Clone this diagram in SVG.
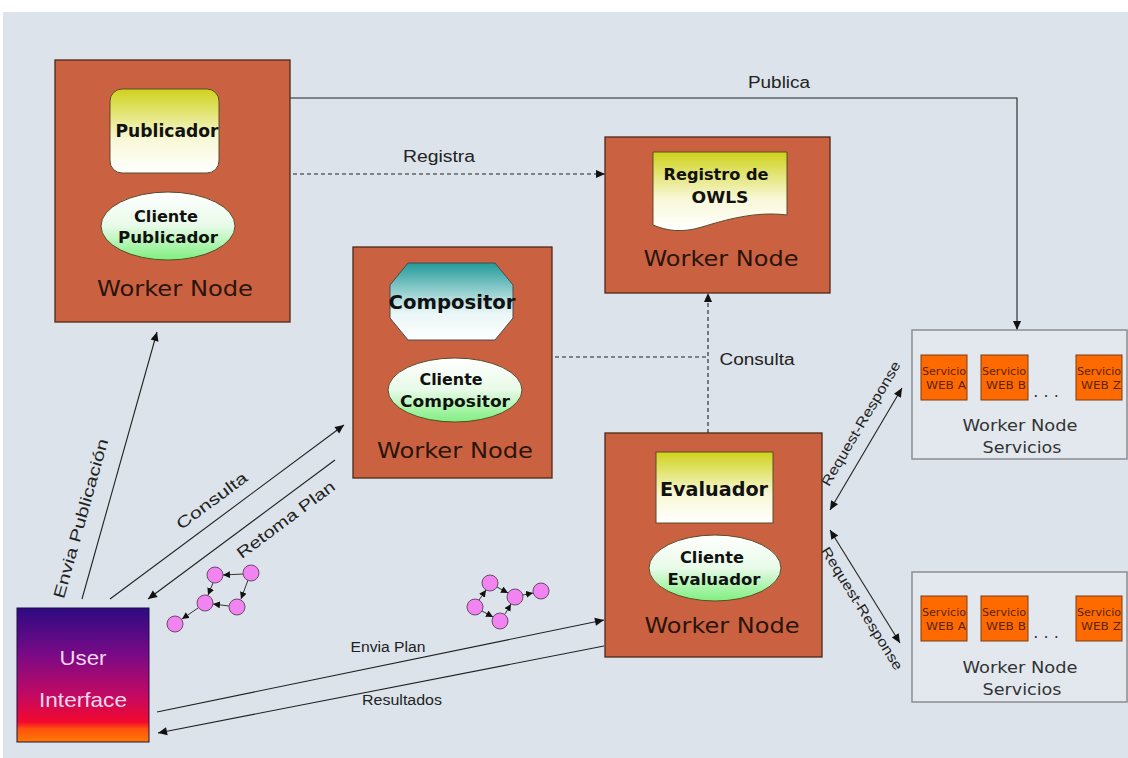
<svg xmlns="http://www.w3.org/2000/svg" width="1128" height="758" viewBox="0 0 1128 758">
  <style>
    text { font-family: "DejaVu Sans", Verdana, sans-serif; text-anchor: middle; }
    .wn { fill: #ca6241; stroke: #4e2818; stroke-width: 1.3; }
    .wnt { font-size: 21px; fill: #2a140c; }
    .bold { font-weight: bold; fill: #111; }
    .lbl { font-family: "Liberation Sans", Arial, sans-serif; font-size: 16px; fill: #222; }
    .sm { font-family: "Liberation Sans", Arial, sans-serif; font-size: 14px; fill: #222; }
    .ln { stroke: #222; stroke-width: 1.1; fill: none; }
    .dash { stroke: #222; stroke-width: 1.1; fill: none; stroke-dasharray: 4 3; }
    .svc { fill: #ff6a00; stroke: #7a3a10; stroke-width: 1; }
    .svct { font-size: 10px; fill: #5a2400; }
    .grp { fill: #e2e8ee; stroke: #8a8e92; stroke-width: 1.5; }
    .grpt { font-size: 16px; fill: #333; }
    .ui { font-family: "Liberation Sans", Arial, sans-serif; font-size: 21px; fill: #f0d8f0; }
    .dot { fill: #f184f0; stroke: #6a4a6a; stroke-width: 1; }
    .gl { stroke: #333; stroke-width: 1; fill: none; }
  </style>
  <defs>
    <linearGradient id="yellowWhite" x1="0" y1="0" x2="0" y2="1">
      <stop offset="0" stop-color="#cfd21a"/>
      <stop offset="0.6" stop-color="#f8f8d8"/>
      <stop offset="1" stop-color="#ffffff"/>
    </linearGradient>
    <linearGradient id="whiteGreen" x1="0" y1="0" x2="0" y2="1">
      <stop offset="0" stop-color="#ffffff"/>
      <stop offset="0.5" stop-color="#e8fae8"/>
      <stop offset="1" stop-color="#7ef07e"/>
    </linearGradient>
    <linearGradient id="tealWhite" x1="0" y1="0" x2="0" y2="1">
      <stop offset="0" stop-color="#229a9a"/>
      <stop offset="0.65" stop-color="#eaf6f6"/>
      <stop offset="1" stop-color="#ffffff"/>
    </linearGradient>
    <linearGradient id="uiGrad" x1="0" y1="0" x2="0" y2="1">
      <stop offset="0" stop-color="#2c0a82"/>
      <stop offset="0.35" stop-color="#7a0a86"/>
      <stop offset="0.65" stop-color="#c20a62"/>
      <stop offset="0.85" stop-color="#f2082e"/>
      <stop offset="0.9" stop-color="#ff5010"/>
      <stop offset="1" stop-color="#ff7a00"/>
    </linearGradient>
    <marker id="arr" viewBox="0 0 10 10" refX="10" refY="5" markerWidth="10" markerHeight="9" markerUnits="userSpaceOnUse" orient="auto-start-reverse">
      <path d="M0,0.5 L10,5 L0,9.5 z" fill="#111"/>
    </marker>
    <marker id="arrS" viewBox="0 0 10 10" refX="10" refY="5" markerWidth="7" markerHeight="7" markerUnits="userSpaceOnUse" orient="auto">
      <path d="M0,0 L10,5 L0,10 z" fill="#111"/>
    </marker>
  </defs>

  <!-- page -->
  <rect x="0" y="0" width="1128" height="758" fill="#ffffff"/>
  <rect x="3" y="12" width="1125" height="746" fill="#dce3ea"/>

  <!-- connectors -->
  <g id="connectors">
    <path class="ln" d="M290,98 H1017 V330" marker-end="url(#arr)"/>
    <text class="lbl" x="779" y="88" textLength="62" lengthAdjust="spacingAndGlyphs">Publica</text>

    <path class="dash" d="M293,174 H605" marker-end="url(#arr)"/>
    <text class="lbl" x="439" y="162" textLength="72" lengthAdjust="spacingAndGlyphs">Registra</text>

    <path class="dash" d="M555,357 H708"/>
    <path class="dash" d="M708,433 V293" marker-end="url(#arr)"/>
    <text class="lbl" x="757" y="365" textLength="75" lengthAdjust="spacingAndGlyphs">Consulta</text>

    <path class="ln" d="M82,599 L157,332" marker-end="url(#arr)"/>
    <text class="lbl" transform="translate(86,520) rotate(-74.3)" textLength="165" lengthAdjust="spacingAndGlyphs">Envia Publicación</text>

    <path class="ln" d="M110,599 L344,425" marker-end="url(#arr)"/>
    <text class="lbl" transform="translate(215,505) rotate(-36.8)" textLength="84" lengthAdjust="spacingAndGlyphs">Consulta</text>

    <path class="ln" d="M335,460 L148,599" marker-end="url(#arr)"/>
    <text class="lbl" transform="translate(289,524) rotate(-36.6)" textLength="118" lengthAdjust="spacingAndGlyphs">Retoma Plan</text>

    <path class="ln" d="M157,712 L604,620" marker-end="url(#arr)"/>
    <text class="sm" x="388" y="652" textLength="75" lengthAdjust="spacingAndGlyphs">Envia Plan</text>

    <path class="ln" d="M604,646 L158,733" marker-end="url(#arr)"/>
    <text class="sm" x="402" y="705" textLength="80" lengthAdjust="spacingAndGlyphs">Resultados</text>

    <path class="ln" d="M830,510 L902,388" marker-start="url(#arr)" marker-end="url(#arr)"/>
    <text class="sm" transform="translate(865,426) rotate(-59.5)" textLength="142" lengthAdjust="spacingAndGlyphs">Request-Response</text>

    <path class="ln" d="M830,530 L900,643" marker-start="url(#arr)" marker-end="url(#arr)"/>
    <text class="sm" transform="translate(858,611) rotate(58.2)" textLength="142" lengthAdjust="spacingAndGlyphs">Request-Response</text>
  </g>

  <!-- small plan graphs -->
  <g id="plan-graph-1">
    <line class="gl" x1="243" y1="574" x2="223" y2="575" marker-end="url(#arrS)"/>
    <line class="gl" x1="248" y1="580" x2="241" y2="599" marker-end="url(#arrS)"/>
    <line class="gl" x1="213" y1="583" x2="208" y2="595" marker-end="url(#arrS)"/>
    <line class="gl" x1="229" y1="606" x2="213" y2="604" marker-end="url(#arrS)"/>
    <line class="gl" x1="198" y1="608" x2="182" y2="619" marker-end="url(#arrS)"/>
    <circle class="dot" cx="215" cy="575" r="8"/>
    <circle class="dot" cx="251" cy="573" r="8"/>
    <circle class="dot" cx="205" cy="603" r="8"/>
    <circle class="dot" cx="237" cy="607" r="8"/>
    <circle class="dot" cx="175" cy="624" r="8"/>
  </g>
  <g id="plan-graph-2">
    <line class="gl" x1="479" y1="600" x2="486" y2="590" marker-end="url(#arrS)"/>
    <line class="gl" x1="497" y1="587" x2="508" y2="593" marker-end="url(#arrS)"/>
    <line class="gl" x1="482" y1="611" x2="493" y2="617" marker-end="url(#arrS)"/>
    <line class="gl" x1="505" y1="614" x2="511" y2="604" marker-end="url(#arrS)"/>
    <line class="gl" x1="523" y1="595" x2="533" y2="593" marker-end="url(#arrS)"/>
    <circle class="dot" cx="490" cy="583" r="8"/>
    <circle class="dot" cx="475" cy="607" r="8"/>
    <circle class="dot" cx="500" cy="621" r="8"/>
    <circle class="dot" cx="515" cy="597" r="8"/>
    <circle class="dot" cx="541" cy="591" r="8"/>
  </g>

  <!-- Publicador worker node -->
  <g id="node-publicador">
    <rect class="wn" x="55" y="60" width="235" height="262"/>
    <rect x="110" y="89" width="109" height="84" rx="12" fill="url(#yellowWhite)" stroke="#5a4a2a" stroke-width="1"/>
    <text class="bold" x="167" y="137" font-size="17" textLength="103" lengthAdjust="spacingAndGlyphs">Publicador</text>
    <ellipse cx="168" cy="226" rx="67" ry="34" fill="url(#whiteGreen)" stroke="#5a4a2a" stroke-width="1"/>
    <text class="bold" x="166" y="222" font-size="16" textLength="64" lengthAdjust="spacingAndGlyphs">Cliente</text>
    <text class="bold" x="168" y="243" font-size="16" textLength="100" lengthAdjust="spacingAndGlyphs">Publicador</text>
    <text class="wnt" x="175" y="296" textLength="156" lengthAdjust="spacingAndGlyphs">Worker Node</text>
  </g>

  <!-- Registro de OWLS worker node -->
  <g id="node-registro">
    <rect class="wn" x="605" y="137" width="225" height="156"/>
    <path d="M653,152 H787 V215 C755,211 725,220 702,227 C682,233 667,231 653,225 Z" fill="url(#yellowWhite)" stroke="#5a4a2a" stroke-width="1"/>
    <text class="bold" x="716" y="180" font-size="16" textLength="105" lengthAdjust="spacingAndGlyphs">Registro de</text>
    <text class="bold" x="720" y="203" font-size="16" textLength="57" lengthAdjust="spacingAndGlyphs">OWLS</text>
    <text class="wnt" x="721" y="266" textLength="155" lengthAdjust="spacingAndGlyphs">Worker Node</text>
  </g>

  <!-- Compositor worker node -->
  <g id="node-compositor">
    <rect class="wn" x="353" y="247" width="199" height="231"/>
    <polygon points="408,263 495,263 513,285 513,318 495,340 408,340 390,318 390,285" fill="url(#tealWhite)" stroke="#4a4a4a" stroke-width="1"/>
    <text class="bold" x="452" y="309" font-size="19" textLength="127" lengthAdjust="spacingAndGlyphs">Compositor</text>
    <ellipse cx="455" cy="390" rx="67" ry="32" fill="url(#whiteGreen)" stroke="#5a4a2a" stroke-width="1"/>
    <text class="bold" x="451" y="385" font-size="16" textLength="63" lengthAdjust="spacingAndGlyphs">Cliente</text>
    <text class="bold" x="455" y="407" font-size="16" textLength="110" lengthAdjust="spacingAndGlyphs">Compositor</text>
    <text class="wnt" x="455" y="458" textLength="156" lengthAdjust="spacingAndGlyphs">Worker Node</text>
  </g>

  <!-- Evaluador worker node -->
  <g id="node-evaluador">
    <rect class="wn" x="605" y="433" width="217" height="224"/>
    <rect x="656" y="452" width="117" height="71" fill="url(#yellowWhite)" stroke="#5a4a2a" stroke-width="1"/>
    <text class="bold" x="714" y="496" font-size="19" textLength="108" lengthAdjust="spacingAndGlyphs">Evaluador</text>
    <ellipse cx="715" cy="568" rx="66" ry="33" fill="url(#whiteGreen)" stroke="#5a4a2a" stroke-width="1"/>
    <text class="bold" x="712" y="563" font-size="16" textLength="64" lengthAdjust="spacingAndGlyphs">Cliente</text>
    <text class="bold" x="714" y="585" font-size="16" textLength="93" lengthAdjust="spacingAndGlyphs">Evaluador</text>
    <text class="wnt" x="722" y="633" textLength="155" lengthAdjust="spacingAndGlyphs">Worker Node</text>
  </g>

  <!-- Web service hosts -->
  <g id="node-servicios-1">
    <rect class="grp" x="912" y="330" width="215" height="129"/>
    <rect class="svc" x="921" y="355" width="46" height="45"/>
    <text class="svct" x="944" y="375" textLength="44" lengthAdjust="spacingAndGlyphs">Servicio</text>
    <text class="svct" x="946" y="389" textLength="40" lengthAdjust="spacingAndGlyphs">WEB A</text>
    <rect class="svc" x="981" y="355" width="47" height="45"/>
    <text class="svct" x="1004" y="375" textLength="44" lengthAdjust="spacingAndGlyphs">Servicio</text>
    <text class="svct" x="1006" y="389" textLength="40" lengthAdjust="spacingAndGlyphs">WEB B</text>
    <text class="grpt" x="1046" y="397">. . .</text>
    <rect class="svc" x="1076" y="355" width="46" height="45"/>
    <text class="svct" x="1099" y="375" textLength="44" lengthAdjust="spacingAndGlyphs">Servicio</text>
    <text class="svct" x="1101" y="389" textLength="40" lengthAdjust="spacingAndGlyphs">WEB Z</text>
    <text class="grpt" x="1020" y="431" textLength="115" lengthAdjust="spacingAndGlyphs">Worker Node</text>
    <text class="grpt" x="1022" y="453" textLength="79" lengthAdjust="spacingAndGlyphs">Servicios</text>
  </g>
  <g id="node-servicios-2">
    <rect class="grp" x="912" y="572" width="215" height="130"/>
    <rect class="svc" x="921" y="596" width="46" height="45"/>
    <text class="svct" x="944" y="616" textLength="44" lengthAdjust="spacingAndGlyphs">Servicio</text>
    <text class="svct" x="946" y="630" textLength="40" lengthAdjust="spacingAndGlyphs">WEB A</text>
    <rect class="svc" x="981" y="596" width="47" height="45"/>
    <text class="svct" x="1004" y="616" textLength="44" lengthAdjust="spacingAndGlyphs">Servicio</text>
    <text class="svct" x="1006" y="630" textLength="40" lengthAdjust="spacingAndGlyphs">WEB B</text>
    <text class="grpt" x="1046" y="638">. . .</text>
    <rect class="svc" x="1076" y="596" width="46" height="45"/>
    <text class="svct" x="1099" y="616" textLength="44" lengthAdjust="spacingAndGlyphs">Servicio</text>
    <text class="svct" x="1101" y="630" textLength="40" lengthAdjust="spacingAndGlyphs">WEB Z</text>
    <text class="grpt" x="1020" y="673" textLength="115" lengthAdjust="spacingAndGlyphs">Worker Node</text>
    <text class="grpt" x="1022" y="695" textLength="79" lengthAdjust="spacingAndGlyphs">Servicios</text>
  </g>

  <!-- User interface -->
  <g id="node-user-interface">
    <rect x="17" y="608" width="132" height="134" fill="url(#uiGrad)" stroke="#1a1040" stroke-width="1"/>
    <text class="ui" x="83" y="665" textLength="47" lengthAdjust="spacingAndGlyphs">User</text>
    <text class="ui" x="83" y="707" textLength="88" lengthAdjust="spacingAndGlyphs">Interface</text>
  </g>
</svg>
